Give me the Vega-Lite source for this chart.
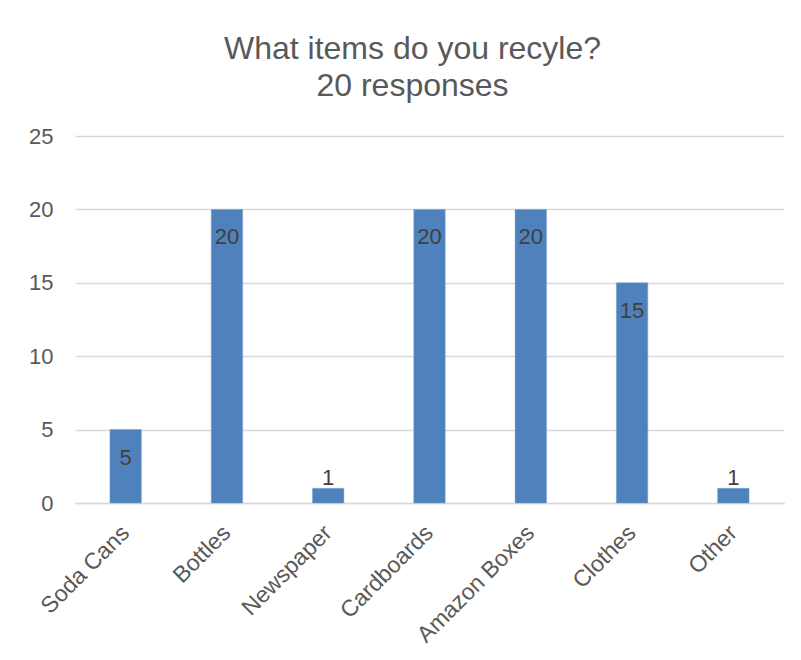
{
  "$schema": "https://vega.github.io/schema/vega-lite/v6.json",
  "width": 709,
  "height": 367,
  "autosize": {"type": "none"},
  "padding": {"left": 75, "top": 136, "right": 17, "bottom": 157},
  "background": "white",
  "title": {
    "text": ["What items do you recyle?", "20 responses"],
    "font": "Liberation Sans",
    "fontSize": 32,
    "fontWeight": "normal",
    "color": "#595959",
    "anchor": "middle",
    "lineHeight": 37,
    "offset": 22,
    "dx": -17
  },
  "data": {
    "values": [
      {"item": "Soda Cans", "count": 5},
      {"item": "Bottles", "count": 20},
      {"item": "Newspaper", "count": 1},
      {"item": "Cardboards", "count": 20},
      {"item": "Amazon Boxes", "count": 20},
      {"item": "Clothes", "count": 15},
      {"item": "Other", "count": 1}
    ]
  },
  "encoding": {
    "x": {
      "field": "item",
      "type": "nominal",
      "sort": null,
      "scale": {"paddingInner": 0.69, "paddingOuter": 0.345},
      "axis": {
        "title": null,
        "labelAngle": -45,
        "labelAlign": "right",
        "labelBaseline": "middle",
        "labelFont": "Liberation Sans",
        "labelFontSize": 23,
        "labelColor": "#595959",
        "labelPadding": 26,
        "labelOverlap": false,
        "ticks": false,
        "domainColor": "#D9D9D9",
        "domainWidth": 1.5,
        "grid": false
      }
    },
    "y": {
      "field": "count",
      "type": "quantitative",
      "scale": {"domain": [0, 25]},
      "axis": {
        "title": null,
        "values": [0, 5, 10, 15, 20, 25],
        "labelFont": "Liberation Sans",
        "labelFontSize": 22,
        "labelColor": "#595959",
        "labelPadding": 22,
        "ticks": false,
        "domain": false,
        "gridColor": "#D9D9D9",
        "gridWidth": 1.5
      }
    }
  },
  "layer": [
    {"mark": {"type": "bar", "color": "#4F81BD", "stroke": "#7A9FD0", "strokeWidth": 0.5}},
    {
      "transform": [{"filter": "datum.count >= 5"}],
      "mark": {"type": "text", "baseline": "middle", "dy": 28, "font": "Liberation Sans", "fontSize": 22, "color": "#404040"},
      "encoding": {"text": {"field": "count", "type": "quantitative"}}
    },
    {
      "transform": [{"filter": "datum.count < 5"}],
      "mark": {"type": "text", "baseline": "alphabetic", "dy": -3, "font": "Liberation Sans", "fontSize": 22, "color": "#404040"},
      "encoding": {"text": {"field": "count", "type": "quantitative"}}
    }
  ],
  "config": {"view": {"stroke": null}}
}
